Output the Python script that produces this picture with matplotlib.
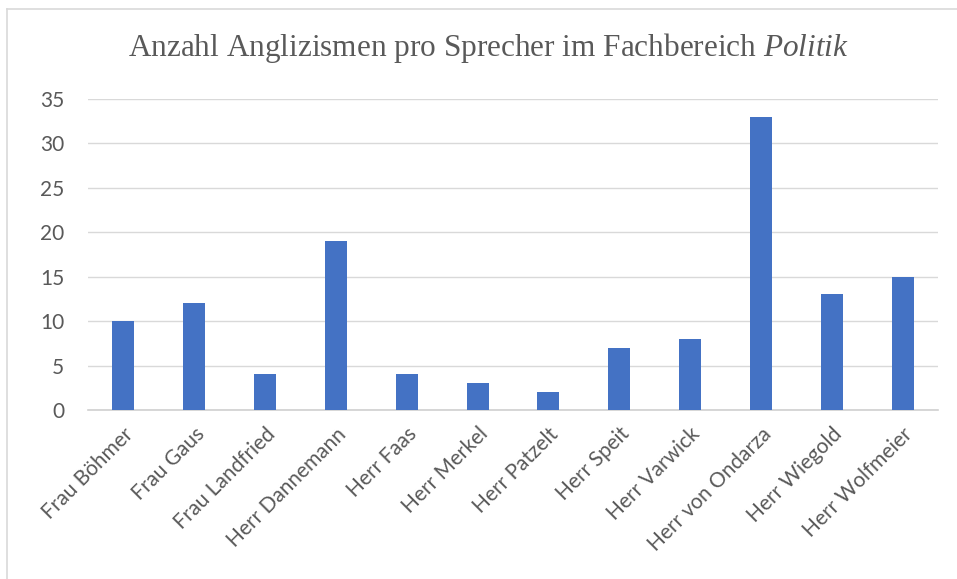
import matplotlib.pyplot as plt
from matplotlib.lines import Line2D

plt.rcParams['mathtext.fontset'] = 'custom'
plt.rcParams['mathtext.rm'] = 'Liberation Serif'
plt.rcParams['mathtext.it'] = 'Liberation Serif:italic'

speakers = ['Frau Böhmer', 'Frau Gaus', 'Frau Landfried', 'Herr Dannemann', 'Herr Faas',
            'Herr Merkel', 'Herr Patzelt', 'Herr Speit', 'Herr Varwick', 'Herr von Ondarza',
            'Herr Wiegold', 'Herr Wolfmeier']
counts = [10, 12, 4, 19, 4, 3, 2, 7, 8, 33, 13, 15]
yticks = [0, 5, 10, 15, 20, 25, 30, 35]

txt = '#595959'
fig = plt.figure(figsize=(9.57, 5.79), dpi=100)
ax = fig.add_axes([88/957, 1-410/579, 850/957, 311/579])

x = range(len(speakers))
ax.bar(x, counts, width=0.31, color='#4472C4', zorder=3)
ax.set_xlim(-0.5, len(speakers)-0.5)
ax.set_ylim(0, 35)
ax.set_yticks(yticks)
ax.set_xticks(list(x))
ax.set_xticklabels(speakers, rotation=45, ha='right', va='top', rotation_mode='anchor',
                   fontsize=15, color=txt, family='Lato')
for lab in ax.get_yticklabels():
    lab.set_fontsize(15)
    lab.set_color(txt)
    lab.set_family('Lato')
ax.tick_params(length=0)
ax.tick_params(axis='y', pad=17)
ax.tick_params(axis='x', pad=10)
ax.grid(axis='y', color='#d9d9d9', linewidth=1, zorder=0)
for s in ['top', 'right', 'left']:
    ax.spines[s].set_visible(False)
ax.spines['bottom'].set_color('#d0d0d0')
ax.spines['bottom'].set_linewidth(1.2)

fig.text(488/957, 1-48/579, 'Anzahl Anglizismen pro Sprecher im Fachbereich $\\it{Politik}$',
         ha='center', va='center', fontsize=22.5, color=txt, family='Liberation Serif')

fig.add_artist(Line2D([7/957, 7/957], [0, 1-9/579], color='#d9d9d9', lw=1.2, transform=fig.transFigure))
fig.add_artist(Line2D([7/957, 1], [1-9/579, 1-9/579], color='#d9d9d9', lw=1.2, transform=fig.transFigure))

fig.savefig('out.png', dpi=100)
